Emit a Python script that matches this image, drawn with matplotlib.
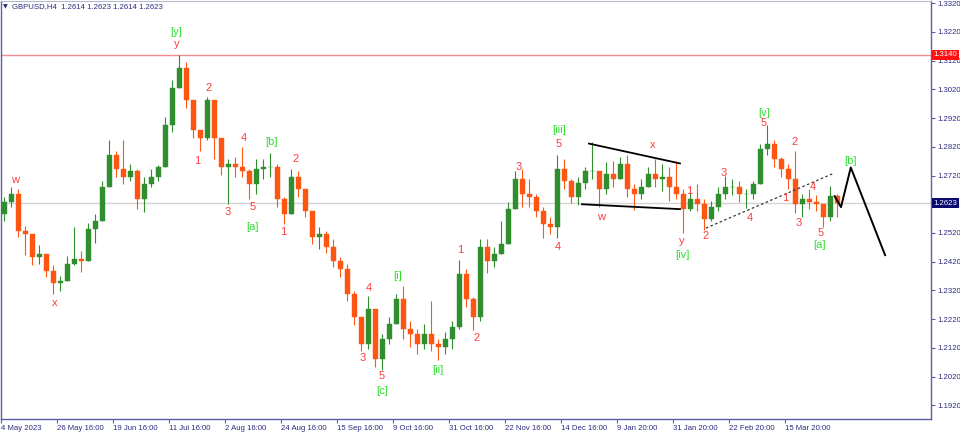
import matplotlib
matplotlib.use("Agg")
import matplotlib.pyplot as plt
from matplotlib.transforms import blended_transform_factory

# ---------------- data (2-day bars, GBPUSD) ----------------
first_open = 1.2585
highs = [1.2644, 1.2679, 1.2672, 1.2544, 1.2506, 1.2478, 1.2436, 1.2409, 1.2371, 1.2440,
         1.2540, 1.2457, 1.2554, 1.2585, 1.2700, 1.2845, 1.2804, 1.2845, 1.2759, 1.2741,
         1.2714, 1.2741, 1.2755, 1.2922, 1.3053, 1.3140, 1.3116, 1.2967, 1.2873, 1.2994,
         1.2984, 1.2845, 1.2776, 1.2786, 1.2818, 1.2741, 1.2776, 1.2776, 1.2800, 1.2759,
         1.2644, 1.2741, 1.2734, 1.2672, 1.2596, 1.2540, 1.2527, 1.2499, 1.2436, 1.2412,
         1.2319, 1.2228, 1.2301, 1.2256, 1.2170, 1.2228, 1.2308, 1.2336, 1.2215, 1.2187,
         1.2204, 1.2284, 1.2152, 1.2176, 1.2215, 1.2426, 1.2395, 1.2298, 1.2499, 1.2499,
         1.2471, 1.2561, 1.2627, 1.2734, 1.2741, 1.2707, 1.2655, 1.2610, 1.2575, 1.2793,
         1.2776, 1.2707, 1.2714, 1.2748, 1.2835, 1.2724, 1.2766, 1.2769, 1.2783, 1.2793,
         1.2689, 1.2707, 1.2748, 1.2776, 1.2759, 1.2748, 1.2769, 1.2672, 1.2665, 1.2689,
         1.2637, 1.2630, 1.2679, 1.2717, 1.2707, 1.2700, 1.2672, 1.2700, 1.2828, 1.2897,
         1.2845, 1.2783, 1.2759, 1.2804, 1.2655, 1.2672, 1.2651, 1.2620, 1.2682, 1.2655]
lows = [1.2561, 1.2610, 1.2506, 1.2443, 1.2409, 1.2412, 1.2367, 1.2308, 1.2319, 1.2353,
        1.2409, 1.2384, 1.2423, 1.2485, 1.2575, 1.2748, 1.2714, 1.2689, 1.2700, 1.2603,
        1.2592, 1.2679, 1.2700, 1.2748, 1.2870, 1.3060, 1.2956, 1.2852, 1.2804, 1.2845,
        1.2776, 1.2721, 1.2620, 1.2714, 1.2714, 1.2637, 1.2655, 1.2707, 1.2714, 1.2610,
        1.2551, 1.2596, 1.2644, 1.2575, 1.2481, 1.2464, 1.2450, 1.2402, 1.2367, 1.2284,
        1.2201, 1.2111, 1.2118, 1.2055, 1.2045, 1.2135, 1.2204, 1.2152, 1.2125, 1.2100,
        1.2118, 1.2111, 1.2079, 1.2100, 1.2118, 1.2187, 1.2263, 1.2183, 1.2215, 1.2381,
        1.2402, 1.2450, 1.2499, 1.2603, 1.2610, 1.2610, 1.2575, 1.2502, 1.2516, 1.2502,
        1.2672, 1.2623, 1.2617, 1.2672, 1.2707, 1.2610, 1.2655, 1.2679, 1.2707, 1.2644,
        1.2599, 1.2637, 1.2689, 1.2679, 1.2665, 1.2630, 1.2637, 1.2520, 1.2596, 1.2596,
        1.2530, 1.2561, 1.2596, 1.2637, 1.2651, 1.2627, 1.2606, 1.2637, 1.2707, 1.2793,
        1.2748, 1.2714, 1.2672, 1.2589, 1.2575, 1.2603, 1.2596, 1.2540, 1.2561, 1.2575]
closes = [1.2627, 1.2655, 1.2527, 1.2516, 1.2436, 1.2447, 1.2388, 1.2346, 1.2353, 1.2412,
          1.2429, 1.2423, 1.2533, 1.2561, 1.2679, 1.2793, 1.2741, 1.2714, 1.2734, 1.2637,
          1.2689, 1.2714, 1.2748, 1.2897, 1.3025, 1.3095, 1.2984, 1.2880, 1.2852, 1.2984,
          1.2852, 1.2748, 1.2759, 1.2748, 1.2734, 1.2689, 1.2741, 1.2748, 1.2748, 1.2637,
          1.2585, 1.2714, 1.2672, 1.2596, 1.2506, 1.2516, 1.2471, 1.2423, 1.2395, 1.2308,
          1.2228, 1.2135, 1.2256, 1.2083, 1.2152, 1.2204, 1.2291, 1.2187, 1.2170, 1.2135,
          1.2170, 1.2135, 1.2125, 1.2152, 1.2194, 1.2377, 1.2291, 1.2228, 1.2471, 1.2423,
          1.2447, 1.2481, 1.2603, 1.2707, 1.2655, 1.2644, 1.2596, 1.2551, 1.2540, 1.2741,
          1.2700, 1.2644, 1.2693, 1.2734, 1.2734, 1.2672, 1.2724, 1.2707, 1.2759, 1.2672,
          1.2655, 1.2679, 1.2724, 1.2707, 1.2714, 1.2679, 1.2655, 1.2603, 1.2637, 1.2620,
          1.2568, 1.2610, 1.2655, 1.2679, 1.2679, 1.2655, 1.2655, 1.2689, 1.2811, 1.2828,
          1.2776, 1.2741, 1.2707, 1.2620, 1.2637, 1.2627, 1.2620, 1.2575, 1.2648, 1.2623]

date_labels = ["4 May 2023", "26 May 16:00", "19 Jun 16:00", "11 Jul 16:00", "2 Aug 16:00",
               "24 Aug 16:00", "15 Sep 16:00", "9 Oct 16:00", "31 Oct 16:00", "22 Nov 16:00",
               "14 Dec 16:00", "9 Jan 20:00", "31 Jan 20:00", "22 Feb 20:00", "15 Mar 20:00"]
bars_per_label = 8
price_ticks = [1.1920, 1.2020, 1.2120, 1.2220, 1.2320, 1.2420, 1.2520, 1.2620,
               1.2720, 1.2820, 1.2920, 1.3020, 1.3120, 1.3220, 1.3320]
level_line = 1.3140
last_price = 1.2623
header = "GBPUSD,H4  1.2614 1.2623 1.2614 1.2623"

# wave labels: (bar position, price, text, degree)
wave_labels = [
    (1.5, 1.2704, "w", "minor"), (7.1, 1.2276, "x", "minor"),
    (24.5, 1.3219, "[y]", "major"), (24.6, 1.3178, "y", "minor"),
    (27.6, 1.2769, "1", "minor"), (29.2, 1.3025, "2", "minor"),
    (31.9, 1.2592, "3", "minor"), (34.2, 1.2849, "4", "minor"),
    (35.4, 1.2610, "5", "minor"), (35.5, 1.2540, "[a]", "major"),
    (38.2, 1.2838, "[b]", "major"), (39.8, 1.2523, "1", "minor"),
    (41.6, 1.2779, "2", "minor"), (51.2, 1.2086, "3", "minor"),
    (52.1, 1.2329, "4", "minor"), (53.9, 1.2021, "5", "minor"),
    (53.9, 1.1972, "[c]", "major"), (56.2, 1.2371, "[i]", "major"),
    (61.9, 1.2042, "[ii]", "major"), (65.1, 1.2461, "1", "minor"),
    (67.5, 1.2156, "2", "minor"), (73.5, 1.2748, "3", "minor"),
    (79.2, 1.2880, "[iii]", "major"), (79.2, 1.2831, "5", "minor"),
    (79.1, 1.2471, "4", "minor"), (85.2, 1.2575, "w", "minor"),
    (92.6, 1.2825, "x", "minor"), (96.8, 1.2492, "y", "minor"),
    (96.9, 1.2443, "[iv]", "major"), (97.8, 1.2665, "1", "minor"),
    (100.2, 1.2509, "2", "minor"), (102.8, 1.2728, "3", "minor"),
    (106.5, 1.2571, "4", "minor"), (108.5, 1.2904, "5", "minor"),
    (108.6, 1.2939, "[v]", "major"), (111.6, 1.2641, "1", "minor"),
    (112.9, 1.2835, "2", "minor"), (113.4, 1.2554, "3", "minor"),
    (115.5, 1.2679, "4", "minor"), (116.6, 1.2520, "5", "minor"),
    (116.5, 1.2478, "[a]", "major"), (120.9, 1.2772, "[b]", "major"),
]
# drawn trend lines (bar position, price)
tri_upper_x, tri_upper_y = [83.5, 96.5], [1.2831, 1.2762]
tri_lower_x, tri_lower_y = [82.5, 96.5], [1.2620, 1.2603]
dotted_x, dotted_y = [100.2, 118.4], [1.2537, 1.2727]
proj_x = [118.6, 119.5, 120.9, 125.8]
proj_y = [1.2648, 1.2610, 1.2748, 1.2443]

# ---------------- figure ----------------
W, H = 960, 432
fig = plt.figure(figsize=(W / 100, H / 100), dpi=100)
fig.patch.set_facecolor("white")
ax = fig.add_axes([1 / W, 13 / H, 930 / W, 418 / H])
ax.set_facecolor("white")

n = len(closes)
idx = list(range(n))
opens = [first_open] + closes[:-1]
bull_c, bear_c = "#2f8f2f", "#ff5512"
cols = [bull_c if c >= o else bear_c for o, c in zip(opens, closes)]
hi = [max(h, o, c) for h, o, c in zip(highs, opens, closes)]
lo = [min(l, o, c) for l, o, c in zip(lows, opens, closes)]
ax.vlines(idx, lo, hi, colors=cols, lw=0.8, zorder=3)
body_lo = [min(o, c) for o, c in zip(opens, closes)]
body_h = [max(abs(c - o), 0.00012) for o, c in zip(opens, closes)]
ax.bar(idx, body_h, bottom=body_lo, width=0.7, color=cols, edgecolor=cols,
       linewidth=0.3, zorder=4)

ax.axhline(level_line, color="#f28c8c", lw=1.0, zorder=2)
ax.axhline(last_price, color="#d4d4d4", lw=1.0, zorder=1)

ax.plot(tri_upper_x, tri_upper_y, color="black", lw=1.3, zorder=5)
ax.plot(tri_lower_x, tri_lower_y, color="black", lw=1.3, zorder=5)
ax.plot(dotted_x, dotted_y, color="#333333", lw=0.9, ls=(0, (2, 2)), zorder=5)
ax.plot(proj_x, proj_y, color="black", lw=1.4, zorder=5)

lab_font = ["Liberation Sans", "DejaVu Sans"]
for x, p, t, kind in wave_labels:
    ax.text(x, p, t, color="#ff3c3c" if kind == "minor" else "#2ee02e",
            fontsize=8, ha="center", va="center", family=lab_font, zorder=6)

# axes
ax.set_xlim(-0.5, 132.36)
ax.set_ylim(1.1873, 1.3327)
xt = [k * bars_per_label - 0.5 for k in range(len(date_labels))]
ax.set_xticks(xt)
ax.set_xticklabels(date_labels)
ax.yaxis.tick_right()
ax.set_yticks(price_ticks)
# the 1.2620 label sits under the current-price box, as in the reference
ax.set_yticklabels(["" if abs(v - last_price) < 0.002 else f"{v:.4f}" for v in price_ticks])
axis_col = "#5c5ca8"
txt_col = "#2b2b80"
ax.tick_params(axis="x", length=3, width=0.8, color=axis_col, labelsize=5.6,
               labelcolor=txt_col, pad=1.5)
ax.tick_params(axis="y", length=3, width=0.8, color=axis_col, labelsize=5.6,
               labelcolor=txt_col, pad=1.5)
for lbl in ax.get_xticklabels():
    lbl.set_ha("left")
    lbl.set_family(lab_font)
for lbl in ax.get_yticklabels():
    lbl.set_family(lab_font)
for side in ["right", "bottom", "left"]:
    ax.spines[side].set_color(axis_col)
    ax.spines[side].set_linewidth(1.0)
ax.spines["top"].set_color("#b8b8d0")
ax.spines["top"].set_linewidth(0.8)

tr = blended_transform_factory(ax.transAxes, ax.transData)
ax.text(1.0025, level_line, f"{level_line:.4f}", transform=tr, color="white",
        fontsize=5.6, family=lab_font, ha="left", va="center", zorder=10, clip_on=False,
        bbox=dict(boxstyle="square,pad=0.2", fc="#ff1010", ec="none"))
ax.text(1.0025, last_price, f"{last_price:.4f}", transform=tr, color="white",
        fontsize=5.6, family=lab_font, ha="left", va="center", zorder=10, clip_on=False,
        bbox=dict(boxstyle="square,pad=0.2", fc="#0a0a6e", ec="none"))

fig.text(3 / W, 1 - 7 / H, "\u25BC", fontsize=4.5, color=txt_col, ha="left", va="center",
         family=["DejaVu Sans"])
fig.text(12 / W, 1 - 7 / H, header, fontsize=5.6, color=txt_col, ha="left", va="center",
         family=lab_font)

fig.savefig("out.png", dpi=100, facecolor="white")
